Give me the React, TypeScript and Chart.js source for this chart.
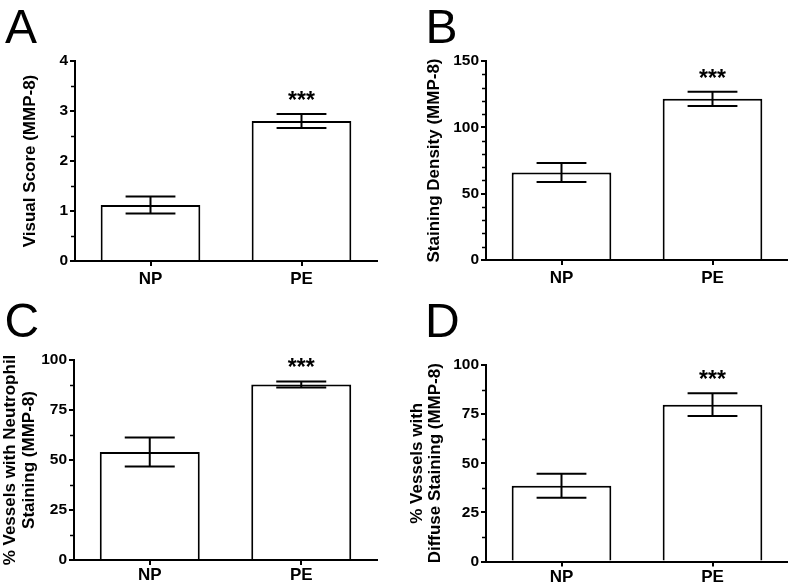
import React, { useEffect, useRef } from "react";
import { Chart, registerables } from "chart.js";

Chart.register(...registerables);

// ---------- data ----------
const categories = ["NP", "PE"];
const significance = ["", "***"];

const visualScoreMeans = [1.12, 2.8];
const visualScoreSem = [0.17, 0.14];

const stainingDensityMeans = [66, 121.5];
const stainingDensitySem = [7.2, 5.4];

const neutrophilMeans = [54, 87.8];
const neutrophilSem = [7.2, 1.5];

const diffuseMeans = [38.5, 79.8];
const diffuseSem = [6.1, 5.8];

const titleA = "Visual Score (MMP-8)";
const titleB = "Staining Density (MMP-8)";
const titleC = ["% Vessels with Neutrophil", "Staining (MMP-8)"];
const titleD = ["% Vessels with", "Diffuse Staining (MMP-8)"];

// axis ranges: [max, major step, minor step]
const rangeA = [4, 1, 0.5];
const rangeB = [150, 50, 10];
const rangeC = [100, 25, 12.5];
const rangeD = [100, 25, 12.5];

// ---------- layout / style ----------
const FONT = '"Liberation Sans", Arial, Helvetica, sans-serif';
const W = 394;
const H = 294;

type Panel = {
  letter: string;
  means: number[];
  sems: number[];
  title: string | string[];
  range: number[];
  left: number;
  top: number;
  yWidth: number;
  areaTop: number;
  padRight: number;
  xHeight: number;
  titlePad: number;
  letterX: number;
  xPad: number;
};

const panels: Panel[] = [
  { letter: "A", means: visualScoreMeans, sems: visualScoreSem, title: titleA, range: rangeA,
    left: 0, top: 0, yWidth: 75, areaTop: 61, padRight: 17, xHeight: 33, titlePad: 20.8, letterX: 5, xPad: 3 },
  { letter: "B", means: stainingDensityMeans, sems: stainingDensitySem, title: titleB, range: rangeB,
    left: 394, top: 0, yWidth: 92, areaTop: 61, padRight: 0, xHeight: 34, titlePad: 30.8, letterX: 31.5, xPad: 3 },
  { letter: "C", means: neutrophilMeans, sems: neutrophilSem, title: titleC, range: rangeC,
    left: 0, top: 294, yWidth: 74, areaTop: 66, padRight: 17, xHeight: 28, titlePad: 1.3, letterX: 4.6, xPad: 0 },
  { letter: "D", means: diffuseMeans, sems: diffuseSem, title: titleD, range: rangeD,
    left: 394, top: 294, yWidth: 92, areaTop: 71, padRight: 0, xHeight: 26.5, titlePad: 13.8, letterX: 31, xPad: 1 },
];

function makeDecor(p: Panel) {
  return {
    id: "decor" + p.letter,
    afterDatasetsDraw(chart: any) {
      const ctx = chart.ctx as CanvasRenderingContext2D;
      const y = chart.scales.y;
      const meta = chart.getDatasetMeta(0);
      ctx.save();
      ctx.strokeStyle = "#000";
      ctx.fillStyle = "#000";
      ctx.lineWidth = 2;
      meta.data.forEach((bar: any, i: number) => {
        const x = bar.x;
        const hw = bar.width / 4;
        const yt = y.getPixelForValue(p.means[i] + p.sems[i]);
        const yb = y.getPixelForValue(p.means[i] - p.sems[i]);
        ctx.beginPath();
        ctx.moveTo(x, yt);
        ctx.lineTo(x, yb);
        ctx.moveTo(x - hw, yt);
        ctx.lineTo(x + hw, yt);
        ctx.moveTo(x - hw, yb);
        ctx.lineTo(x + hw, yb);
        ctx.stroke();
        if (significance[i]) {
          ctx.font = `bold 23px ${FONT}`;
          ctx.textAlign = "center";
          ctx.textBaseline = "alphabetic";
          ctx.fillText(significance[i], x, yt - 6);
        }
      });
      // minor ticks
      const [max, major, minor] = p.range;
      const ax = chart.chartArea.left;
      ctx.lineWidth = 1.5;
      ctx.beginPath();
      for (let v = minor; v < max; v += minor) {
        if (Math.abs(v / major - Math.round(v / major)) < 1e-6) continue;
        const py = Math.round(y.getPixelForValue(v)) + 0.5;
        ctx.moveTo(ax - 4, py);
        ctx.lineTo(ax, py);
      }
      ctx.stroke();
      // panel letter
      ctx.font = `48px ${FONT}`;
      ctx.textAlign = "left";
      ctx.textBaseline = "alphabetic";
      ctx.fillText(p.letter, p.letterX, 43);
      ctx.restore();
    },
  };
}

function PanelChart({ p }: { p: Panel }) {
  const ref = useRef<HTMLCanvasElement | null>(null);
  useEffect(() => {
    if (!ref.current) return;
    const [max, major] = p.range;
    const chart = new Chart(ref.current, {
      type: "bar",
      data: {
        labels: categories,
        datasets: [
          {
            data: p.means,
            backgroundColor: "#ffffff",
            borderColor: "#000000",
            borderWidth: 2,
            barPercentage: 0.66,
            categoryPercentage: 1,
          },
        ],
      },
      options: {
        animation: false,
        responsive: false,
        devicePixelRatio: 1,
        layout: { padding: { left: 0, top: p.areaTop, right: p.padRight, bottom: 0 } },
        plugins: { legend: { display: false }, tooltip: { enabled: false }, title: { display: false } },
        scales: {
          x: {
            afterFit: (s: any) => {
              s.height = p.xHeight;
            },
            grid: { offset: false, drawOnChartArea: false, drawTicks: true, tickLength: 5, lineWidth: 2, color: "#000" },
            border: { display: true, color: "#000", width: 2 },
            ticks: { color: "#000", padding: p.xPad, font: { family: FONT, size: 17, weight: "bold" } },
          },
          y: {
            min: 0,
            max: max,
            afterFit: (s: any) => {
              s.width = p.yWidth;
            },
            ticks: { stepSize: major, color: "#000", padding: 2, font: { family: FONT, size: 15.5, weight: "bold" } },
            grid: { drawOnChartArea: false, drawTicks: true, tickLength: 5, lineWidth: 2, color: "#000" },
            border: { display: true, color: "#000", width: 2 },
            title: {
              display: true,
              text: p.title,
              color: "#000",
              padding: { top: p.titlePad, bottom: 0 },
              font: { family: FONT, size: 17, weight: "bold", lineHeight: 1.08 },
            },
          },
        },
      } as any,
      plugins: [makeDecor(p)],
    });
    return () => chart.destroy();
  }, [p]);
  return (
    <canvas
      ref={ref}
      width={W}
      height={H}
      style={{ position: "absolute", left: p.left, top: p.top, width: W, height: H }}
    />
  );
}

export default function App() {
  return (
    <div style={{ position: "absolute", left: 0, top: 0, width: 788, height: 587, background: "#fff", overflow: "hidden" }}>
      {panels.map((p) => (
        <PanelChart key={p.letter} p={p} />
      ))}
    </div>
  );
}
